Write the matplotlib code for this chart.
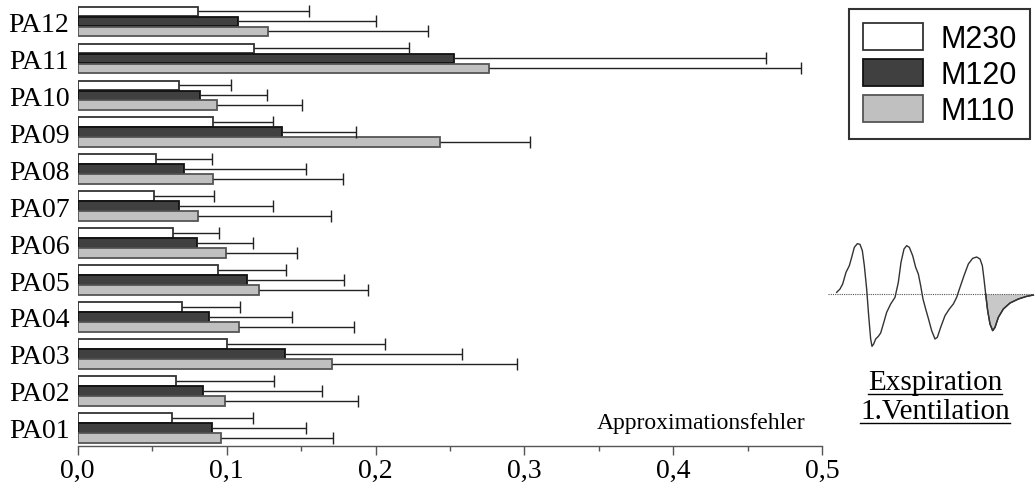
import numpy as np
import matplotlib
matplotlib.use('Agg')
import matplotlib.pyplot as plt
from matplotlib.lines import Line2D
from matplotlib.ticker import MultipleLocator, FuncFormatter

patients = ['PA01', 'PA02', 'PA03', 'PA04', 'PA05', 'PA06',
            'PA07', 'PA08', 'PA09', 'PA10', 'PA11', 'PA12']
series = ['M230', 'M120', 'M110']

# mean approximation error and (one-sided) deviation, PA01..PA12
m230 = [0.063, 0.066, 0.1005, 0.070, 0.094, 0.064, 0.0515, 0.0525, 0.091, 0.068, 0.1185, 0.0805]
m230_err = [0.055, 0.066, 0.106, 0.039, 0.046, 0.031, 0.040, 0.038, 0.040, 0.035, 0.104, 0.0745]
m120 = [0.090, 0.084, 0.139, 0.088, 0.1135, 0.080, 0.068, 0.0715, 0.137, 0.082, 0.2525, 0.1075]
m120_err = [0.0635, 0.080, 0.119, 0.056, 0.065, 0.038, 0.063, 0.082, 0.050, 0.045, 0.2095, 0.093]
m110 = [0.0965, 0.099, 0.171, 0.1085, 0.122, 0.0995, 0.081, 0.091, 0.243, 0.0935, 0.2765, 0.1275]
m110_err = [0.075, 0.089, 0.124, 0.077, 0.073, 0.048, 0.089, 0.087, 0.061, 0.057, 0.2095, 0.1075]

# sketch of the flow curve (time, amplitude) for the inset
wave_t = [50, 60, 68, 78, 88, 95, 103, 112, 120, 127, 133, 140, 146, 152, 156, 161, 167, 175,
          182, 190, 200, 212, 225, 235, 243, 252, 260, 268, 278, 287, 295, 302, 309, 317, 325,
          335, 345, 352, 362, 375, 388, 400, 410, 420, 432, 445, 458, 470, 480, 487, 492, 497,
          503, 510, 518, 525, 535, 550, 570, 595, 620, 640]
wave_v = [5, 15, 30, 65, 85, 110, 140, 151, 149, 130, 85, 15, -65, -135, -157, -150, -135, -127,
          -117, -90, -55, -30, -10, 35, 95, 135, 145, 140, 115, 80, 60, 25, -15, -45, -73,
          -110, -135, -130, -100, -65, -45, -30, -10, 20, 55, 90, 107, 111, 105, 85, 45, 0,
          -50, -90, -110, -100, -70, -45, -27, -15, -7, -3]

values = [m230, m120, m110]
errors = [m230_err, m120_err, m110_err]
faces = ['white', '#404040', '#c0c0c0']
edges = ['#333333', '#111111', '#555555']
offsets = [0.27, 0.0, -0.27]

W, H = 1035, 489
fig = plt.figure(figsize=(W / 100, H / 100), dpi=100)
ax = fig.add_axes([77.7 / W, (H - 447.3) / H, (822.3 - 77.7) / W, 447.3 / H])

y = np.arange(len(patients))
handles = []
for vals, errs, fc, ec, off, name in zip(values, errors, faces, edges, offsets, series):
    vals = np.array(vals)
    errs = np.array(errs)
    bars = ax.barh(y + off, vals, height=0.255, color=fc, edgecolor=ec,
                   linewidth=1.3, label=name, zorder=2)
    handles.append(bars)
    ax.hlines(y + off, vals, vals + errs, color='#222222', linewidth=1, zorder=3)
    ax.plot(vals + errs, y + off, linestyle='none', marker='|', markersize=8.5,
            markeredgewidth=1, color='#222222', zorder=3)

ax.set_xlim(0, 0.5)
ax.set_ylim(-0.5, 11.604)
ax.set_yticks(y)
ax.set_yticklabels(patients, fontfamily='Liberation Serif', fontsize=20)
ax.xaxis.set_major_locator(MultipleLocator(0.1))
ax.xaxis.set_minor_locator(MultipleLocator(0.05))
ax.xaxis.set_major_formatter(FuncFormatter(lambda v, p: f'{v:.1f}'.replace('.', ',')))
ax.tick_params(axis='x', which='major', length=6.5, width=1, color='#555555',
               labelsize=20, pad=2)
ax.tick_params(axis='x', which='minor', length=3.5, width=1, color='#555555')
ax.tick_params(axis='y', length=0, pad=6)
for lab in ax.get_xticklabels():
    lab.set_fontfamily('Liberation Serif')
for s in ['left', 'top', 'right']:
    ax.spines[s].set_visible(False)
ax.spines['bottom'].set_color('#555555')
ax.spines['bottom'].set_linewidth(1)

fig.text(596.7 / W, (H - 429.3) / H, 'Approximationsfehler', fontfamily='Liberation Serif',
         fontsize=17, va='baseline', ha='left')

leg = ax.legend(handles=handles, loc='upper left', bbox_to_anchor=(849 / W, 1 - 10 / H),
                bbox_transform=fig.transFigure, prop={'family': 'Liberation Sans', 'size': 22},
                handlelength=1.96, handleheight=0.97, labelspacing=0.17, borderpad=0.45,
                handletextpad=0.57, borderaxespad=0, fancybox=False, framealpha=1,
                edgecolor='#333333')
leg.get_frame().set_linewidth(1.5)

# inset with the flow curve
ins = fig.add_axes([820 / W, (H - 360) / H, 215 / W, 130 / H])
ins.set_xlim(0, 645)
ins.set_ylim(-195, 195)
ins.axis('off')
ins.plot([25, 640], [0, 0], color='#555555', linestyle=(0, (1, 1)), linewidth=0.8)
ins.plot(wave_t, wave_v, color='#333333', linewidth=1)
wt = np.array(wave_t)
wv = np.array(wave_v)
mask = wt >= 497
ins.fill_between(wt[mask], wv[mask], 0, color='#c8c8c8', linewidth=0)
ins.plot(wt[mask], wv[mask], color='#333333', linewidth=1)

t1 = fig.text(935 / W, (H - 390) / H, 'Exspiration', fontfamily='Liberation Serif',
              fontsize=21, ha='center', va='baseline')
t2 = fig.text(935 / W, (H - 419) / H, '1.Ventilation', fontfamily='Liberation Serif',
              fontsize=21, ha='center', va='baseline')

fig.canvas.draw()
renderer = fig.canvas.get_renderer()
for t, base in [(t1, 390), (t2, 419)]:
    bb = t.get_window_extent(renderer)
    yl = (H - base - 5) / H
    fig.add_artist(Line2D([bb.x0 / W, bb.x1 / W], [yl, yl], transform=fig.transFigure,
                          color='black', linewidth=1))

fig.savefig('out.png', dpi=100)
